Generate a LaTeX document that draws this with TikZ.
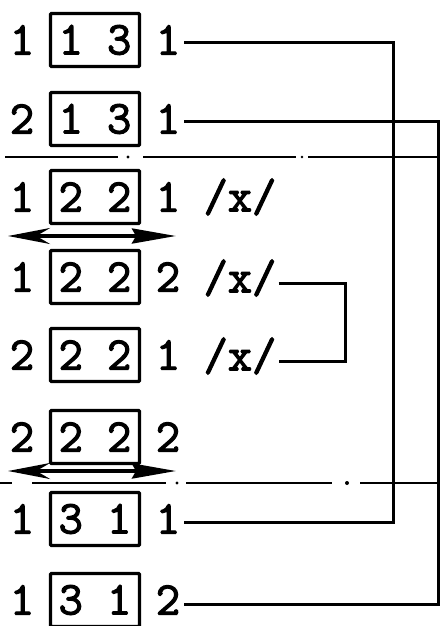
\documentclass[tikz,border=0pt]{standalone}
\usepackage{fontspec}
\setmonofont{Latin Modern Mono}
\usetikzlibrary{arrows.meta, positioning}

\begin{document}
\begin{tikzpicture}[
  x=1pt, y=-1pt,
  font=\ttfamily\addfontfeatures{FakeBold=2.5}\fontsize{47}{49}\selectfont,
  cifra/.style={inner sep=0pt},
  casella/.style={draw=black, line width=3.2pt, rounded corners=1pt,
    minimum width=89pt, minimum height=53pt, inner sep=0pt},
  linea/.style={draw=black, line width=3pt},
  divisore/.style={draw=black, line width=2.4pt},
  freccia/.style={draw=black, line width=3.6pt,
    {Stealth[length=42pt,width=16pt]}-{Stealth[length=44pt,width=15pt,inset=4pt]}}
]
\useasboundingbox (0,0) rectangle (440,626);

% ---- righe: numero / y / sinistra / casella / destra ------------------
\foreach \n/\y/\sx/\ca/\dx in {%
  1/40/1/{1 3}/1,
  2/119/2/{1 3}/1,
  3/197/1/{2 2}/1,
  4/277/1/{2 2}/2,
  5/355/2/{2 2}/1,
  6/437/2/{2 2}/2,
  7/519/1/{3 1}/1,
  8/600/1/{3 1}/2} {
  \node[cifra] (s\n) at (22,\y) {\sx};
  \node[casella] (c\n) at (95,\y) {\ca};
  \node[cifra] (d\n) at (168,\y) {\dx};
}

% ---- etichette /x/ -----------------------------------------------------
\node[cifra] (x3) at (240,197) {/x/};
\node[cifra] (x4) at (240,278) {/x/};
\node[cifra] (x5) at (240,356) {/x/};

%==============================================================
% collegamenti
%==============================================================
\coordinate (k1) at (393,43);
\coordinate (k2) at (438,121);
\coordinate (k4) at (345,283);
\draw[linea] ([xshift=4pt]d1.east |- k1) -- (k1) |- ([xshift=4pt,yshift=-3pt]d7.east);
\draw[linea] ([xshift=4pt]d2.east |- k2) -- (k2) |- ([xshift=4pt,yshift=-4pt]d8.east);
\draw[linea] ([xshift=2pt]x4.east |- k4) -- (k4) |- ([xshift=2pt,yshift=-5pt]x5.east);

% ---- frecce doppie -----------------------------------------------------
\coordinate (f3a) at (8,236);
\coordinate (f3b) at (176,236);
\coordinate (f6a) at (8,471);
\coordinate (f6b) at (176,471);
\draw[freccia] (f3a) -- (f3b);
\draw[freccia] (f6a) -- (f6b);

% ---- linee divisorie tratteggiate ---------------------------------------
\draw[divisore] (5,157) -- (118,157);
\fill (128,157) circle (1.6pt);
\draw[divisore] (143,157) -- (296,157);
\fill (302,157) circle (1.4pt);
\draw[divisore] (308,157) -- (440,157);

\draw[divisore] (0,483) -- (12,483);
\draw[divisore] (32,483) -- (166,483);
\fill (177,483) circle (1.6pt);
\draw[divisore] (186,483) -- (332,483);
\fill (347,483) circle (2pt);
\draw[divisore] (360,483) -- (440,483);

\end{tikzpicture}
\end{document}
